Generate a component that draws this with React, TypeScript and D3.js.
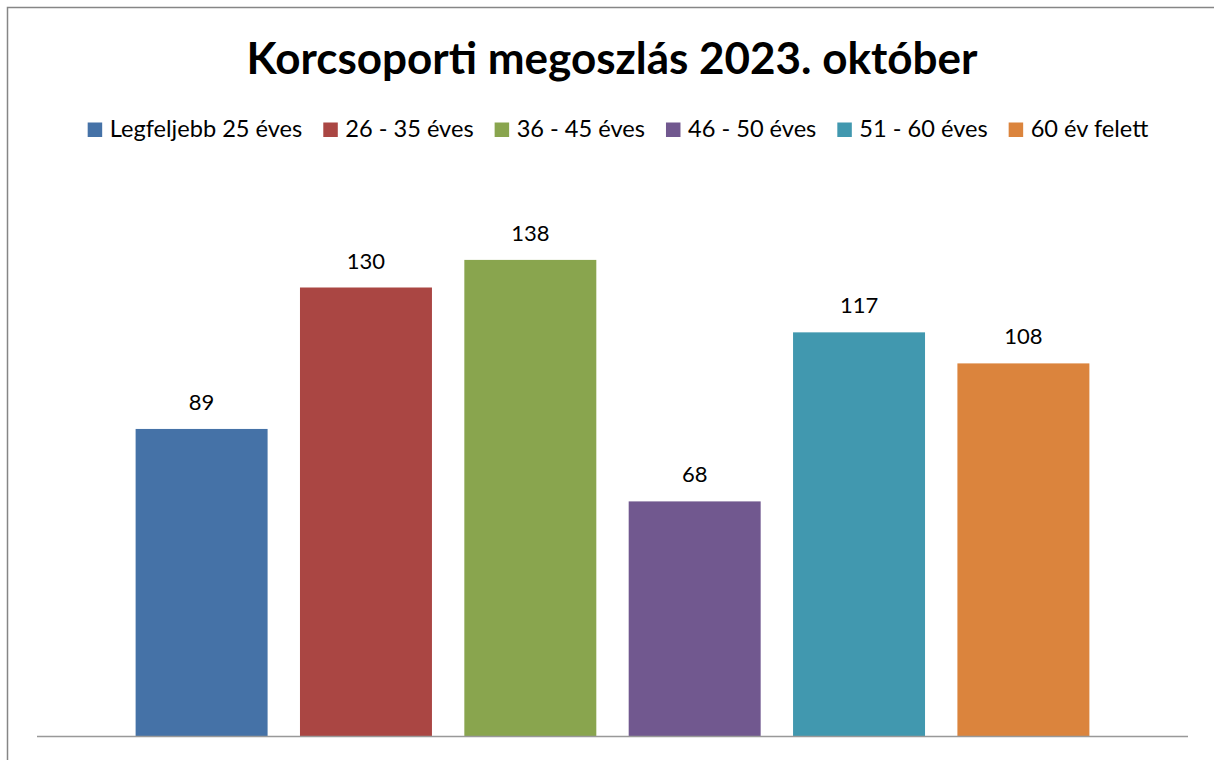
import * as d3 from 'd3';
import React, { useEffect, useRef } from 'react';

const title = 'Korcsoporti megoszlás 2023. október';
const groups = ['Legfeljebb 25 éves', '26 - 35 éves', '36 - 45 éves', '46 - 50 éves', '51 - 60 éves', '60 év felett'];
const counts = [89, 130, 138, 68, 117, 108];
const colors = ['#4572A7', '#AA4643', '#89A54E', '#71588F', '#4198AF', '#DB843D'];

const FONT = 'Lato, "Open Sans", sans-serif';

export default function App() {
    const target = useRef<SVGSVGElement>(null);

    useEffect(() => {
        const svg = d3.select(target.current);
        svg.selectAll('*').remove();

        const width = 1214;
        const height = 760;
        const margin = { top: 184, right: 26, bottom: 24, left: 37 };

        // chart frame (right and bottom edges fall outside the picture)
        svg.append('rect')
            .attr('x', 7.5)
            .attr('y', 7.5)
            .attr('width', width + 10)
            .attr('height', height + 10)
            .style('fill', 'none')
            .style('stroke', '#868686')
            .style('stroke-width', 1.5);

        svg.append('text')
            .attr('x', 612)
            .attr('y', 74)
            .attr('text-anchor', 'middle')
            .style('font-family', FONT)
            .style('font-weight', 'bold')
            .style('font-size', '44px')
            .text(title);

        // legend, laid out by measured text widths and centred
        const legend = svg.append('g');
        let cursor = 0;
        groups.forEach((g, i) => {
            const item = legend.append('g').attr('transform', `translate(${cursor}, 0)`);
            item.append('rect')
                .attr('x', 0)
                .attr('y', -14.5)
                .attr('width', 14.5)
                .attr('height', 14.5)
                .style('fill', colors[i]);
            const t = item.append('text')
                .attr('x', 22)
                .attr('y', 0)
                .style('font-family', FONT)
                .style('font-size', '23.6px')
                .text(g);
            const w = (t.node() as SVGTextElement).getComputedTextLength();
            cursor += 22 + w + 21;
        });
        const legendWidth = cursor - 21;
        legend.attr('transform', `translate(${618 - legendWidth / 2}, 137)`);

        const x = d3.scaleBand()
            .domain(groups)
            .range([margin.left, width - margin.right])
            .paddingInner(0.197)
            .paddingOuter(0.6);

        const y = d3.scaleLinear()
            .domain([0, 160])
            .range([height - margin.bottom, margin.top]);

        const plot = svg.append('g');

        plot.selectAll('rect.bar')
            .data(counts)
            .enter()
            .append('rect')
            .attr('class', 'bar')
            .attr('x', (d, i) => x(groups[i]) as number)
            .attr('y', d => y(d))
            .attr('width', x.bandwidth())
            .attr('height', d => y(0) - y(d))
            .style('fill', (d, i) => colors[i]);

        plot.selectAll('text.value')
            .data(counts)
            .enter()
            .append('text')
            .attr('class', 'value')
            .attr('x', (d, i) => (x(groups[i]) as number) + x.bandwidth() / 2)
            .attr('y', d => y(d) - 19)
            .attr('text-anchor', 'middle')
            .style('font-family', FONT)
            .style('font-size', '22px')
            .text(d => d);

        plot.append('line')
            .attr('x1', margin.left)
            .attr('x2', width - margin.right)
            .attr('y1', y(0) + 0.5)
            .attr('y2', y(0) + 0.5)
            .style('stroke', '#999999')
            .style('stroke-width', 1.5);
    }, []);

    return (
        <svg
            ref={target}
            width={1214}
            height={760}
            style={{ position: 'absolute', left: 0, top: 0, background: '#fff' }}
        />
    );
}
